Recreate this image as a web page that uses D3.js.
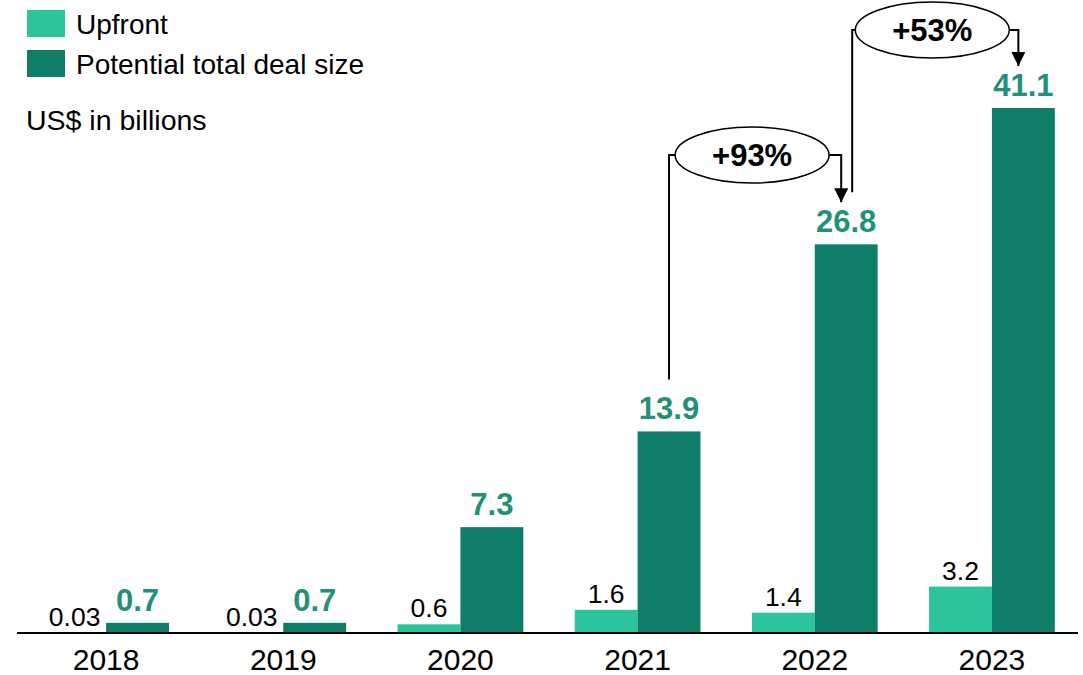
<!DOCTYPE html>
<html>
<head>
<meta charset="utf-8">
<script src="https://cdn.jsdelivr.net/npm/d3@7"></script>
<style>
  body { margin: 0; background: #fff; }
  svg text { font-family: "Liberation Sans", Arial, sans-serif; }
</style>
</head>
<body>
<div id="chart"></div>
<script>
const years = ["2018", "2019", "2020", "2021", "2022", "2023"]
const upfront = [0.03, 0.03, 0.6, 1.6, 1.4, 3.2]
const upfrontLabels = ["0.03", "0.03", "0.6", "1.6", "1.4", "3.2"]
const totalDeal = [0.7, 0.7, 7.3, 13.9, 26.8, 41.1]
const totalLabels = ["0.7", "0.7", "7.3", "13.9", "26.8", "41.1"]
const growth = [{ from: "2021", to: "2022", label: "+93%" }, { from: "2022", to: "2023", label: "+53%" }]

const lightGreen = "#2cc49f",
  darkGreen = "#0e7e68",
  labelGreen = "#23917a"

function drawChart() {
  const width = 1083,
    height = 675,
    baseY = 633

  const svg = d3.select("#chart").append("svg")
    .attr("width", width).attr("height", height)
    .attr("viewBox", [0, 0, width, height])

  // outer band per year, inner band for the two series
  const x = d3.scaleBand().domain(years).range([17.5, 1080.5])
    .paddingInner(0.29).paddingOuter(0.145)
  const xs = d3.scaleBand().domain(["up", "total"]).range([0, x.bandwidth()])

  // tallest bar is cut short in the original, so clamp
  const y = d3.scaleLinear().domain([0, 36.2]).range([baseY, 108]).clamp(true)

  const rows = years.map((yr, i) => ({
    year: yr, up: upfront[i], total: totalDeal[i],
    upLabel: upfrontLabels[i], totalLabel: totalLabels[i]
  }))

  const g = svg.append("g")

  g.selectAll(".up").data(rows).enter().append("rect")
    .attr("x", d => x(d.year) + xs("up"))
    .attr("y", d => y(d.up))
    .attr("width", xs.bandwidth())
    .attr("height", d => baseY - y(d.up))
    .attr("fill", lightGreen)

  g.selectAll(".total").data(rows).enter().append("rect")
    .attr("x", d => x(d.year) + xs("total"))
    .attr("y", d => y(d.total))
    .attr("width", xs.bandwidth())
    .attr("height", d => baseY - y(d.total))
    .attr("fill", darkGreen)

  g.selectAll(".upLbl").data(rows).enter().append("text")
    .attr("x", d => x(d.year) + xs("up") + xs.bandwidth() / 2)
    .attr("y", d => y(d.up) - 7)
    .attr("text-anchor", "middle")
    .attr("font-size", 26.5)
    .attr("fill", "#000")
    .text(d => d.upLabel)

  g.selectAll(".totLbl").data(rows).enter().append("text")
    .attr("x", d => x(d.year) + xs("total") + xs.bandwidth() / 2)
    .attr("y", d => y(d.total) - 12)
    .attr("text-anchor", "middle")
    .attr("font-size", 31)
    .attr("font-weight", "bold")
    .attr("fill", labelGreen)
    .text(d => d.totalLabel)

  // axis
  const axis = svg.append("g").attr("transform", `translate(0,${baseY})`)
    .call(d3.axisBottom(x).tickSize(0).tickPadding(16))
  axis.select(".domain").attr("d", "M17,0H1078").attr("stroke", "#000").attr("stroke-width", 2)
  axis.selectAll("text").attr("font-size", 30).attr("fill", "#000")
    .style("font-family", "'Liberation Sans', Arial, sans-serif")

  // growth annotations
  svg.append("defs").append("marker")
    .attr("id", "arr").attr("viewBox", "0 0 10 10")
    .attr("refX", 10).attr("refY", 5)
    .attr("markerWidth", 7).attr("markerHeight", 7)
    .attr("markerUnits", "strokeWidth")
    .attr("orient", "auto")
    .append("path").attr("d", "M0,0L10,5L0,10Z").attr("fill", "#000")

  const barMid = yr => x(yr) + xs("total") + xs.bandwidth() / 2
  const totalOf = yr => totalDeal[years.indexOf(yr)]

  growth.forEach((a, i) => {
    let x1 = barMid(a.from) + (i === 0 ? 0 : 6),
      x2 = barMid(a.to) - 5
    let topY = i === 0 ? 155 : 30
    let startY = y(totalOf(a.from)) - 52
    let endY = y(totalOf(a.to)) - 42
    let cx = (x1 + x2) / 2 - 3
    let rx = 77, ry = 28

    svg.append("path")
      .attr("d", `M${x1},${startY}V${topY}H${cx - rx}`)
      .attr("fill", "none").attr("stroke", "#000").attr("stroke-width", 2)
    svg.append("path")
      .attr("d", `M${cx + rx},${topY}H${x2}V${endY}`)
      .attr("fill", "none").attr("stroke", "#000").attr("stroke-width", 2)
      .attr("marker-end", "url(#arr)")
    svg.append("ellipse")
      .attr("cx", cx).attr("cy", topY).attr("rx", rx).attr("ry", ry)
      .attr("fill", "#fff").attr("stroke", "#000").attr("stroke-width", 1.5)
    svg.append("text")
      .attr("x", cx).attr("y", topY + 11)
      .attr("text-anchor", "middle")
      .attr("font-size", 31).attr("font-weight", "bold")
      .text(a.label)
  })

  // legend
  const legend = svg.append("g")
  const items = [{ name: "Upfront", color: lightGreen }, { name: "Potential total deal size", color: darkGreen }]
  items.forEach((it, i) => {
    legend.append("rect").attr("x", 27).attr("y", 10 + i * 40)
      .attr("width", 38).attr("height", 27).attr("fill", it.color)
    legend.append("text").attr("x", 76).attr("y", 34 + i * 40)
      .attr("font-size", 28).text(it.name)
  })
  legend.append("text").attr("x", 26).attr("y", 130).attr("font-size", 28.5).text("US$ in billions")
}

drawChart()
</script>
</body>
</html>
